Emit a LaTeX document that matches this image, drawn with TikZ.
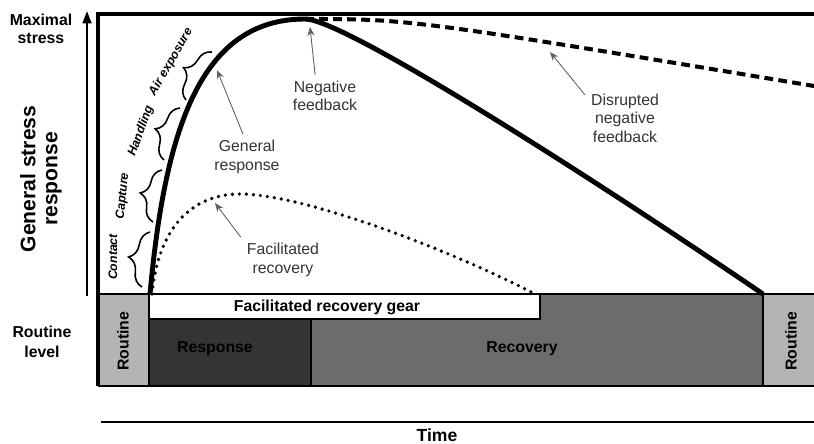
\documentclass[tikz,border=0pt]{standalone}
\usepackage{fontspec}
\setmainfont{Liberation Sans}
\usetikzlibrary{arrows.meta,decorations.pathreplacing}

\definecolor{routinegray}{RGB}{180,180,180}
\definecolor{responsegray}{RGB}{52,52,52}
\definecolor{recoverygray}{RGB}{108,108,108}

\tikzset{
  axislabel/.style={font=\bfseries\fontsize{9}{10.5}\selectfont, align=center},
  blocklabel/.style={font=\bfseries\fontsize{9}{11}\selectfont},
  note/.style={font=\fontsize{9}{10.5}\selectfont, align=center, text=black!80},
  pointer/.style={draw=gray!75!black, line width=0.5pt, -{Stealth[length=5pt,width=4pt]}},
  stage/.style={font=\bfseries\itshape\fontsize{7}{8}\selectfont, inner sep=1pt},
  stagebrace/.style={draw, line width=0.9pt, decorate, decoration={brace, amplitude=10pt}},
  panel/.style={draw, line width=1.1pt},
}

\begin{document}
\begin{tikzpicture}[x=0.02cm, y=-0.02cm]
    \useasboundingbox (0,0) rectangle (814,443);

    % bottom panel
    \fill[routinegray] (98,294) rectangle (149,386);
    \fill[routinegray] (763,294) rectangle (814,386);
    \fill[responsegray] (149,319) rectangle (311,386);
    \fill[recoverygray] (311,319) rectangle (763,386);
    \fill[recoverygray] (540,294) rectangle (763,319);
    \path[panel, fill=white] (149,294) rectangle (540,319);
    \path[panel] (98,294) -- (814,294);
    \path[panel] (98,386) -- (814,386);
    \path[panel] (149,294) -- (149,386);
    \path[panel] (311,319) -- (311,386);
    \path[panel] (763,294) -- (763,386);

    \node[blocklabel, rotate=90] (routineL) at (123,341) {Routine};
    \node[blocklabel, rotate=90] (routineR) at (791,341) {Routine};
    \node[blocklabel] (gear) at (327,307) {Facilitated recovery gear};
    \node[blocklabel] (response) at (215,349) {Response};
    \node[blocklabel] (recovery) at (522,349) {Recovery};

    % frame and axes
    \path[draw, line width=2pt] (98,386) -- (98,14) -- (814,14);
    \coordinate (ybot) at (87,296);
    \coordinate (ytop) at (87,11);
    \path[draw, line width=1.2pt, -{Triangle[length=7pt,width=5pt]}] (ybot) -- (ytop);
    \coordinate (tstart) at (101,422);
    \coordinate (tend) at (814,422);
    \path[draw, line width=1.2pt] (tstart) -- (tend);

    \node[axislabel] (maxstress) at (41,29) {Maximal\\stress};
    \node[axislabel, rotate=90, font=\bfseries\fontsize{12}{12.5}\selectfont] (gsr) at (41,179) {General stress\\response};
    \node[axislabel, font=\bfseries\fontsize{9}{11.5}\selectfont] (routinelevel) at (42,342) {Routine\\level};
    \node[font=\bfseries\fontsize{10}{12}\selectfont] (time) at (437,435) {Time};

    % curves
    \coordinate (start) at (150,294);
    \coordinate (peak) at (305,19);
    \coordinate (stop) at (763,294);
    \path[draw, line width=2.8pt] (start) .. controls (165,130) and (200,19) .. (peak)
        .. controls (345,19) and (600,183) .. (stop);
    \path[draw, line width=2.3pt, dash pattern=on 5pt off 3pt] (peak) .. controls (410,19) .. (814,86);
    \path[draw, line width=2.1pt, line cap=round, dash pattern=on 0pt off 4pt]
        (152,294) .. controls (158,230) and (190,194) .. (240,194)
        .. controls (300,194) and (440,245) .. (535,294);

    % stages
    \path[stagebrace] (142,287) -- (150,232);
    \path[stagebrace] (153,222) -- (162,170);
    \path[stagebrace] (164,160) -- (180,108);
    \path[stagebrace] (186,100) -- (212,52);
    \node[stage, rotate=90] (contact) at (113,257) {Contact};
    \node[stage, rotate=84] (capture) at (123,196) {Capture};
    \node[stage, rotate=70] (handling) at (141,131) {Handling};
    \node[stage, rotate=60] (air) at (171,62) {Air exposure};

    % notes
    \node[note] (negfb) at (325,96) {Negative\\feedback};
    \node[note] (genresp) at (247,157) {General\\response};
    \node[note] (facrec) at (283,260) {Facilitated\\recovery};
    \node[note] (disfb) at (625,118) {Disrupted\\negative\\feedback};
    \coordinate (negtip) at (310,27);
    \coordinate (gentip) at (217,70);
    \coordinate (factip) at (215,203);
    \coordinate (distip) at (550,52);
    \path[pointer] (negfb.115) -- (negtip);
    \path[pointer] (genresp.100) -- (gentip);
    \path[pointer] (facrec.north west) -- (factip);
    \path[pointer] (disfb.150) -- (distip);
\end{tikzpicture}
\end{document}
